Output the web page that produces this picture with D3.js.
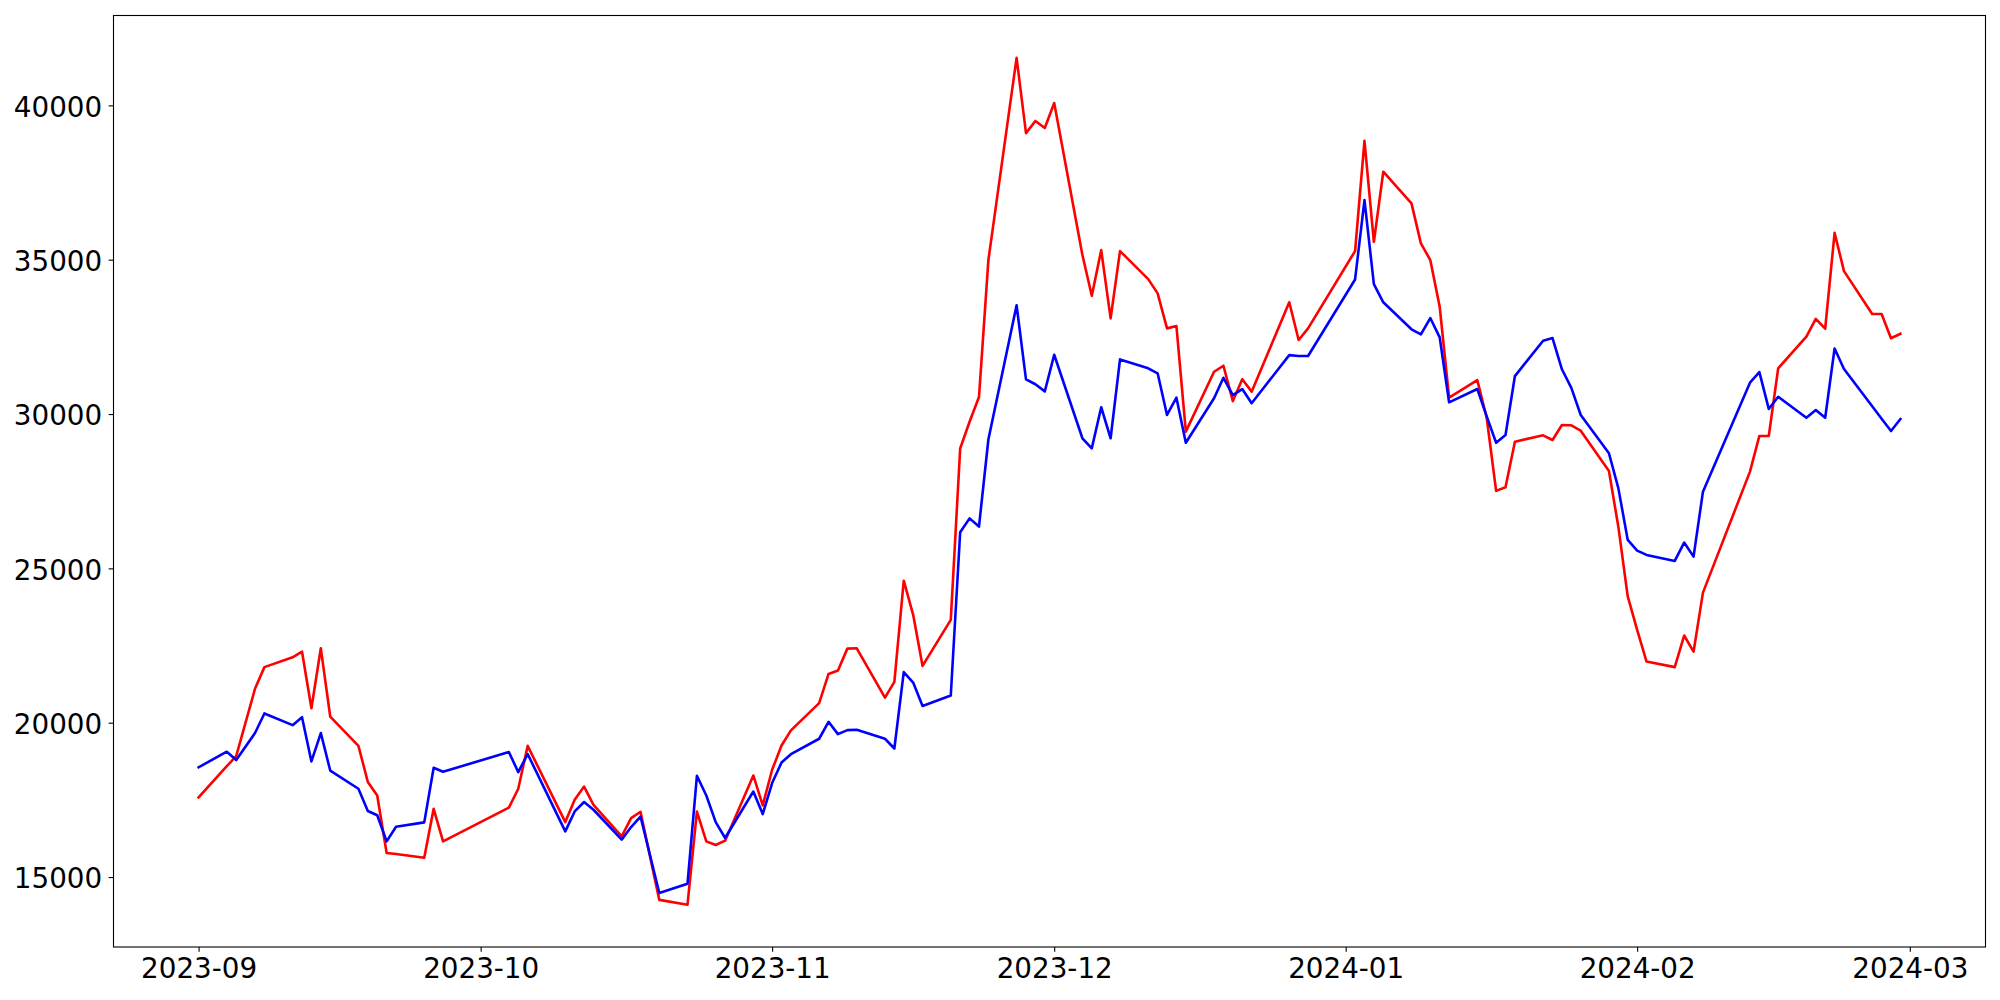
<!DOCTYPE html>
<html>
<head>
<meta charset="utf-8">
<script src="https://cdn.jsdelivr.net/npm/d3@7"></script>
<style>
  html, body { margin: 0; padding: 0; background: #fff; }
  svg { display: block; }
  text { font-family: "DejaVu Sans", sans-serif; }
</style>
</head>
<body>
<svg id="chart" width="2000" height="1000"></svg>
<script>
// ---- Data ----
const dates = [
  "2023-09-01","2023-09-04","2023-09-05","2023-09-07","2023-09-08","2023-09-11","2023-09-12","2023-09-13","2023-09-14","2023-09-15",
  "2023-09-18","2023-09-19","2023-09-20","2023-09-21","2023-09-22","2023-09-25","2023-09-26","2023-09-27",
  "2023-10-04","2023-10-05","2023-10-06","2023-10-10","2023-10-11","2023-10-12","2023-10-13","2023-10-16","2023-10-17","2023-10-18",
  "2023-10-20","2023-10-23","2023-10-24","2023-10-25","2023-10-26","2023-10-27","2023-10-30","2023-10-31",
  "2023-11-01","2023-11-02","2023-11-03","2023-11-06","2023-11-07","2023-11-08","2023-11-09","2023-11-10","2023-11-13","2023-11-14",
  "2023-11-15","2023-11-16","2023-11-17","2023-11-20","2023-11-21","2023-11-22","2023-11-23","2023-11-24","2023-11-27","2023-11-28",
  "2023-11-29","2023-11-30",
  "2023-12-01","2023-12-04","2023-12-05","2023-12-06","2023-12-07","2023-12-08","2023-12-11","2023-12-12","2023-12-13","2023-12-14",
  "2023-12-15","2023-12-18","2023-12-19","2023-12-20","2023-12-21","2023-12-22","2023-12-26","2023-12-27","2023-12-28",
  "2024-01-02","2024-01-03","2024-01-04","2024-01-05","2024-01-08","2024-01-09","2024-01-10","2024-01-11","2024-01-12","2024-01-15",
  "2024-01-16","2024-01-17","2024-01-18","2024-01-19","2024-01-22","2024-01-23","2024-01-24","2024-01-25","2024-01-26","2024-01-29",
  "2024-01-30","2024-01-31",
  "2024-02-01","2024-02-02","2024-02-05","2024-02-06","2024-02-07","2024-02-08","2024-02-13","2024-02-14","2024-02-15","2024-02-16",
  "2024-02-19","2024-02-20","2024-02-21","2024-02-22","2024-02-23","2024-02-26","2024-02-27","2024-02-28","2024-02-29"
];

const redValues = [
  17580,18590,18915,21100,21800,22120,22300,20470,22410,20200,
  19250,18080,17640,15779,15747,15626,17210,16156,
  17250,17860,19250,16780,17500,17930,17340,16318,16910,17115,
  14260,14105,17120,16156,16039,16178,18290,17320,
  18475,19260,19750,20635,21580,21690,22400,22410,20815,21325,
  24600,23495,21840,23330,28885,29750,30550,34985,41540,39100,
  39495,39265,
  40075,35150,33830,35310,33100,35280,34370,33910,32775,32850,
  29430,31370,31565,30420,31125,30725,33620,32400,32775,
  35280,38850,35580,37850,36825,35530,34990,33475,30530,31100,
  29880,27510,27630,29105,29310,29160,29645,29635,29460,28155,
  26350,24090,
  23010,21980,21800,22825,22300,24215,28135,29290,29290,31480,
  32505,33085,32765,35870,34630,33240,33240,32455,32600
];

const blueValues = [
  18555,19060,18790,19665,20300,19920,20180,18745,19665,18450,
  17860,17140,17000,16156,16630,16770,18540,18410,
  19050,18400,18985,16480,17125,17430,17180,16211,16620,16960,
  14481,14783,18280,17640,16780,16265,17770,17040,
  18045,18710,18980,19480,20030,19630,19760,19770,19480,19165,
  21640,21300,20540,20880,26170,26620,26355,29175,33525,31125,
  30965,30735,
  31920,29215,28890,30220,29215,31770,31480,31320,29970,30530,
  29070,30510,31175,30615,30810,30350,31910,31880,31880,
  34360,36930,34210,33620,32745,32580,33110,32485,30380,30810,
  29925,29070,29320,31230,32375,32460,31450,30850,29970,28730,
  27600,25920,
  25575,25435,25240,25835,25380,27485,31015,31360,30165,30560,
  29880,30130,29880,32125,31460,30250,29850,29450,29840
];

const seriesColors = ["red", "blue"];
const yTickValues = [15000, 20000, 25000, 30000, 35000, 40000];

// ---- Layout ----
const W = 2000, H = 1000;
const margin = { left: 113.5, right: 14.5, top: 15.5, bottom: 53 };
const innerW = W - margin.left - margin.right;
const innerH = H - margin.top - margin.bottom;
const FONT = 27.78;
const TICK = 4.86;

const parse = d3.utcParse("%Y-%m-%d");
const parsedDates = dates.map(parse);

const svg = d3.select("#chart");
const g = svg.append("g").attr("transform", `translate(${margin.left},${margin.top})`);

// x domain with 5% padding (matplotlib-like autoscale)
const [x0, x1] = d3.extent(parsedDates);
const xPad = (x1 - x0) * 0.05;
const x = d3.scaleUtc()
  .domain([new Date(+x0 - xPad), new Date(+x1 + xPad)])
  .range([0, innerW]);

const allVals = redValues.concat(blueValues);
const [ymin, ymax] = d3.extent(allVals);
const yPad = (ymax - ymin) * 0.05;
const y = d3.scaleLinear()
  .domain([ymin - yPad, ymax + yPad])
  .range([innerH, 0]);

// ---- Lines ----
const line = d3.line()
  .x(d => x(d.date))
  .y(d => y(d.value));

const series = [redValues, blueValues].map((vals, i) => ({
  color: seriesColors[i],
  points: vals.map((v, j) => ({ date: parsedDates[j], value: v }))
}));

g.selectAll("path.series")
  .data(series)
  .join("path")
  .attr("class", "series")
  .attr("fill", "none")
  .attr("stroke", d => d.color)
  .attr("stroke-width", 2.6)
  .attr("stroke-linejoin", "round")
  .attr("stroke-linecap", "square")
  .attr("d", d => line(d.points));

// ---- Axes ----
const xAxis = d3.axisBottom(x)
  .ticks(d3.utcMonth.every(1))
  .tickFormat(d3.utcFormat("%Y-%m"))
  .tickSize(TICK)
  .tickPadding(6.8);

const gx = g.append("g")
  .attr("transform", `translate(0,${innerH})`)
  .call(xAxis);
gx.select(".domain").remove();
gx.selectAll(".tick line").attr("stroke", "#000").attr("stroke-width", 1.1);
gx.selectAll(".tick text")
  .attr("fill", "#000")
  .style("font-size", FONT + "px")
  .style("font-family", "DejaVu Sans, sans-serif");

const yAxis = d3.axisLeft(y)
  .tickValues(yTickValues)
  .tickFormat(d3.format("d"))
  .tickSize(TICK)
  .tickPadding(6.5);

const gy = g.append("g").call(yAxis);
gy.select(".domain").remove();
gy.selectAll(".tick line").attr("stroke", "#000").attr("stroke-width", 1.1);
gy.selectAll(".tick text")
  .attr("fill", "#000")
  .attr("dy", "0.39em")
  .style("font-size", FONT + "px")
  .style("font-family", "DejaVu Sans, sans-serif");

// ---- Frame ----
g.append("rect")
  .attr("x", 0).attr("y", 0)
  .attr("width", innerW).attr("height", innerH)
  .attr("fill", "none")
  .attr("stroke", "#000")
  .attr("stroke-width", 1.1);
</script>
</body>
</html>
